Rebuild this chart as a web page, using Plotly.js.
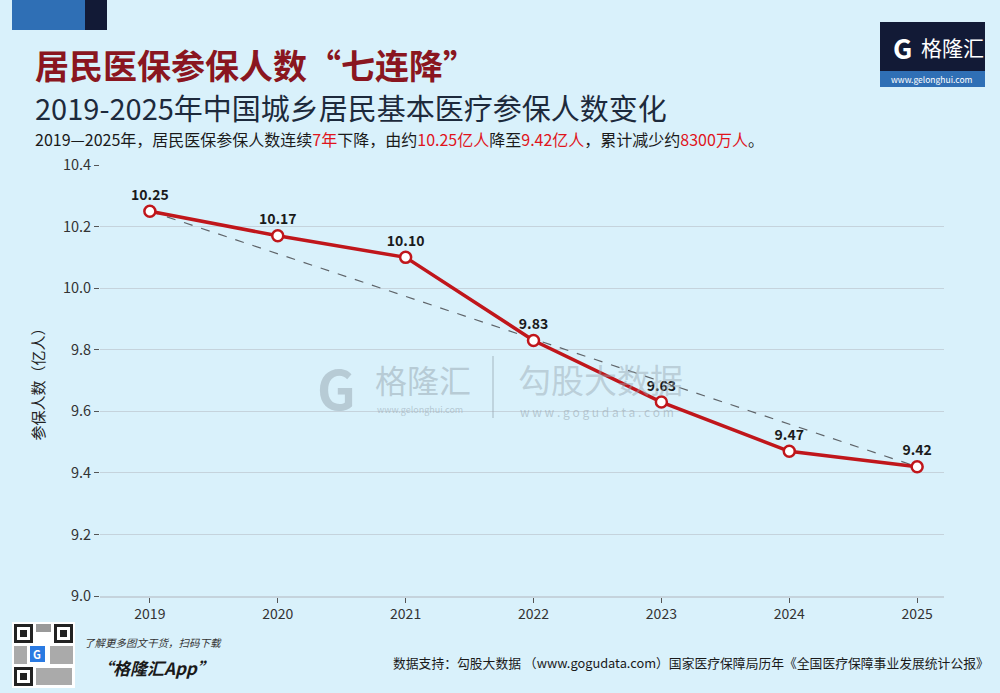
<!DOCTYPE html>
<html><head><meta charset="utf-8">
<script src="https://cdn.plot.ly/plotly-3.0.1.min.js"></script>
<style>html,body{margin:0;padding:0;background:#d9f1fb;}#chart{width:1000px;height:693px;}</style>
</head><body><div id="chart"></div>
<script>
const years = [2019, 2020, 2021, 2022, 2023, 2024, 2025];
const insured = [10.25, 10.17, 10.10, 9.83, 9.63, 9.47, 9.42];
const labels = ['10.25', '10.17', '10.10', '9.83', '9.63', '9.47', '9.42'];
const yTicks = [9.0, 9.2, 9.4, 9.6, 9.8, 10.0, 10.2, 10.4];
const yTickText = ['9.0', '9.2', '9.4', '9.6', '9.8', '10.0', '10.2', '10.4'];

const FONT = '"Noto Sans CJK SC", "Noto Sans", sans-serif';
const BG = '#d9f1fb';
const L = 100, R = 944, T = 165, B = 596;
const X = px => (px - L) / (R - L);
const Y = py => (B - py) / (B - T);

const trend = {
  x: [years[0], years[years.length - 1]],
  y: [insured[0], insured[insured.length - 1]],
  mode: 'lines', type: 'scatter', hoverinfo: 'skip',
  line: {color: '#5f6469', width: 1.2, dash: 'dash'}
};
const main = {
  x: years, y: insured, text: labels,
  mode: 'lines+markers+text', type: 'scatter',
  textposition: 'top center',
  textfont: {family: FONT, size: 14, color: '#1a1a1a', weight: 700},
  line: {color: '#c0161b', width: 3.5},
  marker: {size: 11, color: '#ffffff', line: {color: '#c0161b', width: 2.5}}
};

const ann = [];
function txt(t, px, py, size, color, opts) {
  ann.push(Object.assign({
    text: t, xref: 'paper', yref: 'paper', x: X(px), y: Y(py),
    xanchor: 'left', yanchor: 'middle', showarrow: false,
    font: {family: FONT, size: size, color: color}
  }, opts || {}));
}
txt('<b>居民医保参保人数“七连降”</b>', 33, 65, 34, '#8a1620');
txt('2019-2025年中国城乡居民基本医疗参保人数变化', 33, 107, 29, '#1d2a3c');
txt('2019—2025年，居民医保参保人数连续<span style="color:#e0141c">7年</span>下降，由约<span style="color:#e0141c">10.25亿人</span>降至<span style="color:#e0141c">9.42亿人</span>，累计减少约<span style="color:#e0141c">8300万人</span>。', 33, 139, 16, '#1a1a1a');
// logo
txt('<b>G</b>', 891, 47, 27, '#ffffff');
txt('格隆汇', 919, 47, 21, '#ffffff');
txt('www.gelonghui.com', 932, 79, 8.5, '#ffffff', {xanchor: 'center'});
// watermark
txt('<b>G</b>', 315, 386, 54, 'rgba(150,165,175,0.5)');
txt('格隆汇', 373, 379, 32, 'rgba(150,165,175,0.5)');
txt('www.gelonghui.com', 375, 409, 9, 'rgba(150,165,175,0.55)');
txt('勾股大数据', 516, 379, 33, 'rgba(150,165,175,0.45)');
txt('w w w . g o g u d a t a . c o m', 518, 411, 12, 'rgba(150,165,175,0.55)');
// footer
txt('<i>了解更多图文干货，扫码下载</i>', 82, 642, 10.5, '#333333');
txt('<b><i>“格隆汇App”</i></b>', 94, 667, 17, '#1a1a1a');
txt('数据支持：勾股大数据 （www.gogudata.com）国家医疗保障局历年《全国医疗保障事业发展统计公报》', 391, 662, 12.8, '#1a1a1a');
txt('<b>G</b>', 37, 654, 11, '#ffffff', {xanchor: 'center'});

const shapes = [];
function rect(x0, y0, x1, y1, color, extra) {
  shapes.push(Object.assign({type: 'rect', xref: 'paper', yref: 'paper',
    x0: X(x0), x1: X(x1), y0: Y(y1), y1: Y(y0), fillcolor: color, line: {width: 0}, layer: 'above'}, extra || {}));
}
rect(12, 0, 85, 30, '#2f6fb5');
rect(85, 0, 107, 30, '#121a36');
rect(880, 22, 985, 71, '#121a36');
rect(880, 71, 985, 87, '#2f6fb5');
// watermark divider
shapes.push({type: 'line', xref: 'paper', yref: 'paper', x0: X(493), x1: X(493), y0: Y(418), y1: Y(356),
  line: {color: 'rgba(150,165,175,0.5)', width: 1.5}});
// QR placeholder
rect(12, 622, 75, 688, '#ffffff');
rect(14, 624, 33, 643, '#222222'); rect(17, 627, 30, 640, '#ffffff'); rect(20, 630, 27, 637, '#222222');
rect(54, 624, 73, 643, '#222222'); rect(57, 627, 70, 640, '#ffffff'); rect(60, 630, 67, 637, '#222222');
rect(14, 667, 33, 686, '#222222'); rect(17, 670, 30, 683, '#ffffff'); rect(20, 673, 27, 680, '#222222');
rect(36, 624, 51, 632, '#555555', {opacity: 0.6}); rect(36, 668, 72, 685, '#555555', {opacity: 0.5});
rect(14, 646, 27, 664, '#555555', {opacity: 0.5}); rect(50, 646, 73, 664, '#555555', {opacity: 0.5});
rect(30, 646, 45, 662, '#2a7ae2');

const layout = {
  width: 1000, height: 693,
  paper_bgcolor: BG, plot_bgcolor: BG,
  margin: {l: L, r: 1000 - R, t: T, b: 693 - B},
  showlegend: false,
  font: {family: FONT, color: '#333333'},
  xaxis: {
    range: [2018.61, 2025.21], tickmode: 'array', tickvals: years,
    ticktext: years.map(String), ticks: 'outside', ticklen: 5, tickcolor: '#555',
    showgrid: false, zeroline: false, showline: true, linecolor: '#c5d3dc', linewidth: 1.5,
    tickfont: {family: FONT, size: 14, color: '#333'}, fixedrange: true
  },
  yaxis: {
    range: [9.0, 10.4], tickmode: 'array', tickvals: yTicks, ticktext: yTickText,
    ticks: 'outside', ticklen: 5, tickcolor: '#555',
    showgrid: true, gridcolor: '#c5d3dc', gridwidth: 1.2, zeroline: false, showline: false,
    tickfont: {family: FONT, size: 14.5, color: '#333'},
    title: {text: '参保人数（亿人）', font: {family: FONT, size: 15, color: '#222'}, standoff: 14},
    fixedrange: true
  },
  annotations: ann, shapes: shapes
};
Plotly.newPlot('chart', [trend, main], layout, {displayModeBar: false, staticPlot: true});
</script></body></html>
